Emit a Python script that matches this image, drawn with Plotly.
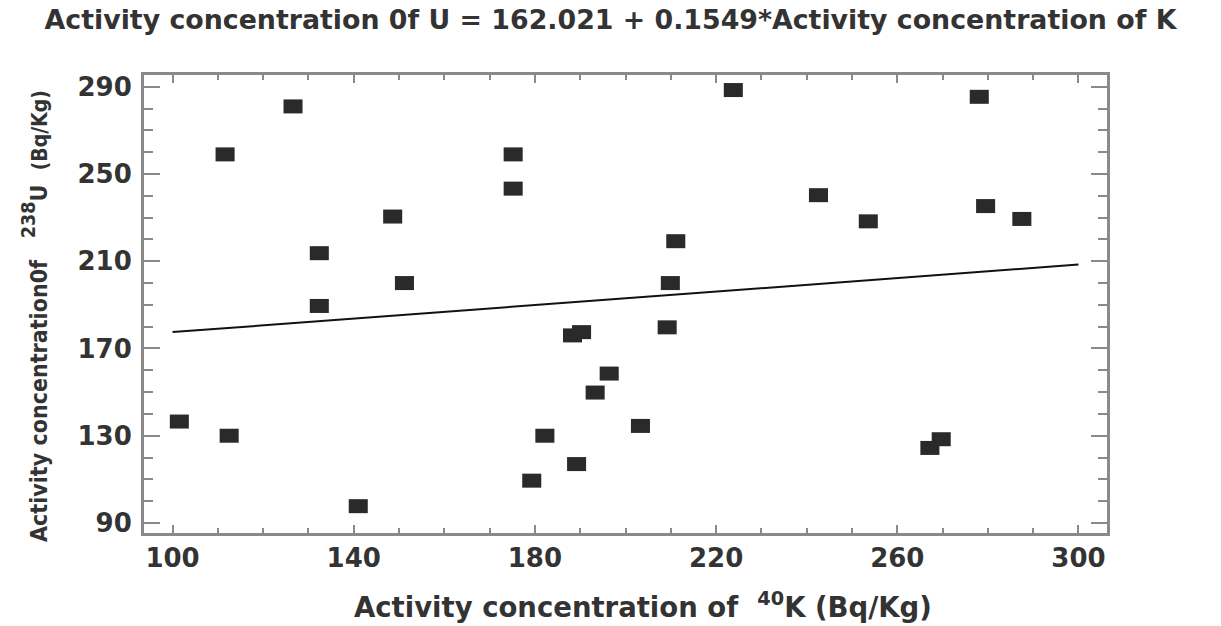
import plotly.graph_objects as go

# --- data ---
k40 = [101.5, 111.6, 112.5, 126.6, 132.4, 132.4, 141.0, 148.6, 151.2,
       175.2, 175.2, 179.3, 182.2, 188.3, 190.3, 189.2, 193.3, 196.4,
       203.3, 209.2, 209.9, 211.1, 223.8, 242.6, 253.6, 267.2,
       269.7, 278.1, 279.5, 287.5]
u238 = [136.5, 259.0, 130.0, 281.0, 213.7, 189.5, 97.7, 230.5, 200.0,
        259.0, 243.3, 109.4, 130.0, 176.0, 177.5, 117.0, 149.8, 158.5,
        134.5, 179.7, 200.0, 219.2, 288.5, 240.3, 228.3, 124.4,
        128.4, 285.4, 235.3, 229.4]

intercept = 162.021
slope = 0.1549
fit_x = [100, 300]
fit_y = [intercept + slope * v for v in fit_x]

x_tick_vals = [100, 140, 180, 220, 260, 300]
x_tick_text = ["100", "140", "180", "220", "260", "300"]
y_tick_vals = [90, 130, 170, 210, 250, 290]
y_tick_text = ["90", "130", "170", "210", "250", "290"]

NB = "\u00a0"
title_text = "Activity concentration 0f U = 162.021 + 0.1549*Activity concentration of K"
x_title = "Activity concentration of" + NB * 2 + "<sup>40</sup>K (Bq/Kg)"
y_title = ("Activity concentration0f" + NB * 3 +
           "<span style='font-size:28px'><sup>238</sup></span>U" + NB * 2 +
           "<span style='font-size:21px'>(Bq/Kg)</span>")

TXT = "#333333"
AXC = "#8a8a8a"
WIDE = "DejaVu Sans, Verdana, sans-serif"
NARROW = "Liberation Sans Narrow, DejaVu Sans Condensed, Liberation Sans, Arial, sans-serif"

fig = go.Figure()
fig.add_trace(go.Scatter(
    x=fit_x, y=fit_y, mode="lines",
    line=dict(color="#111111", width=2),
    showlegend=False, hoverinfo="skip"))
fig.add_trace(go.Scatter(
    x=k40, y=u238, mode="markers",
    marker=dict(symbol="line-ew", size=13.6, color="#2a2a2a",
                line=dict(color="#2a2a2a", width=14)),
    showlegend=False))

axis_common = dict(
    showgrid=False, zeroline=False, showline=True, linecolor=AXC, linewidth=3,
    mirror="allticks", ticks="inside", tickcolor=AXC, tickwidth=2,
    tickfont=dict(family=WIDE, size=26, color=TXT, weight="bold"),
)

fig.update_xaxes(
    range=[93.7, 306.3], tickmode="array", tickvals=x_tick_vals, ticktext=x_tick_text,
    ticklen=8, ticklabelstandoff=0,
    minor=dict(tickmode="linear", tick0=100, dtick=10, ticks="inside",
               ticklen=5, tickcolor=AXC, tickwidth=1.5),
    **axis_common)
fig.update_yaxes(
    range=[85.4, 295.4], tickmode="array", tickvals=y_tick_vals, ticktext=y_tick_text,
    ticklen=16, ticklabelstandoff=4,
    minor=dict(tickmode="linear", tick0=90, dtick=10, ticks="inside",
               ticklen=9, tickcolor=AXC, tickwidth=1.5),
    **axis_common)

fig.update_layout(
    width=1221, height=626,
    margin=dict(l=144, r=114, t=75, b=93),
    paper_bgcolor="white", plot_bgcolor="white",
    title=dict(text=title_text, x=0.5, xref="container", xanchor="center",
               y=1 - 20 / 626, yref="container", yanchor="middle",
               font=dict(family=WIDE, size=26.8, color=TXT, weight="bold")),
    annotations=[
        dict(text=x_title, xref="paper", yref="paper",
             x=(643 - 144) / 963, y=(533 - 605) / 458,
             xanchor="center", yanchor="middle", showarrow=False,
             font=dict(family=WIDE, size=27.5, color=TXT, weight="bold")),
        dict(text=y_title, xref="paper", yref="paper",
             x=(34 - 144) / 963, y=(533 - 316) / 458, textangle=-90,
             xanchor="center", yanchor="middle", showarrow=False,
             font=dict(family=NARROW, size=23, color=TXT, weight="bold")),
    ],
)

fig.write_html("out.html", config={"displayModeBar": False},
               post_script="document.body.style.margin='0';document.body.style.overflow='hidden';")
